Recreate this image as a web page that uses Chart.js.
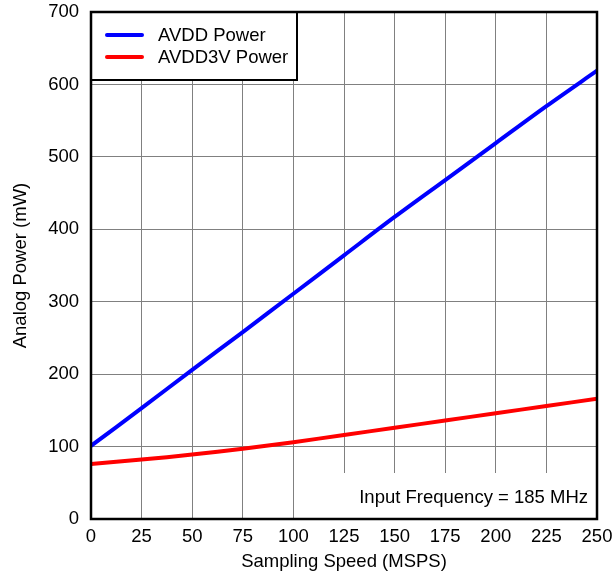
<!DOCTYPE html>
<html>
<head>
<meta charset="utf-8">
<script src="https://cdn.jsdelivr.net/npm/chart.js@4/dist/chart.umd.min.js"></script>
<style>
  html, body { margin: 0; padding: 0; background: #fff; }
  #wrap { width: 613px; height: 575px; }
</style>
</head>
<body>
<div id="wrap"><canvas id="chart" width="613" height="575"></canvas></div>
<script>
// data
var speeds = [0, 25, 50, 75, 100, 125, 150, 175, 200, 225, 250];
var avddPower = [101, 153, 206, 258, 311, 364, 417, 468, 519, 570, 619];
var avdd3vPower = [76, 82, 89, 97, 106, 116, 126, 136, 146, 156, 166];
var seriesNames = ["AVDD Power", "AVDD3V Power"];
var seriesColors = ["#0000ff", "#ff0000"];
var noteText = "Input Frequency = 185 MHz";

const FONT = "Liberation Sans, Arial, sans-serif";
const FSIZE = 18.5;

var toPoints = (ys) => speeds.map((x, i) => ({ x: x, y: ys[i] }));

// no auto padding for tick labels, layout padding decides the plot box
var noAutoPad = (s) => {
  s.paddingTop = 0;
  s.paddingBottom = 0;
  s.paddingLeft = 0;
  s.paddingRight = 0;
};

// legend box, note box and frame drawn on top of the plot
const overlay = {
  id: "overlay",
  afterDraw(chart) {
    const ctx = chart.ctx;
    const a = chart.chartArea;
    ctx.save();

    // note box (bottom right)
    ctx.fillStyle = "#fff";
    ctx.fillRect(a.left + 225, a.bottom - 46, a.right - a.left - 225, 46);
    ctx.fillStyle = "#000";
    ctx.font = FSIZE + "px " + FONT;
    ctx.textAlign = "right";
    ctx.textBaseline = "middle";
    ctx.fillText(noteText, a.right - 9, a.bottom - 21);

    // legend box (top left)
    ctx.fillStyle = "#fff";
    ctx.fillRect(a.left, a.top, 206, 68);
    ctx.strokeStyle = "#000";
    ctx.lineWidth = 2;
    ctx.strokeRect(a.left, a.top, 206, 68);
    ctx.lineWidth = 4;
    ctx.lineCap = "round";
    ctx.textAlign = "left";
    seriesNames.forEach((name, i) => {
      const y = a.top + 23 + i * 22;
      ctx.strokeStyle = seriesColors[i];
      ctx.beginPath();
      ctx.moveTo(a.left + 16, y);
      ctx.lineTo(a.left + 51, y);
      ctx.stroke();
      ctx.fillStyle = "#000";
      ctx.fillText(name, a.left + 67, y + 1);
    });

    // plot frame
    ctx.lineCap = "butt";
    ctx.strokeStyle = "#000";
    ctx.lineWidth = 2.5;
    ctx.strokeRect(a.left, a.top, a.right - a.left, a.bottom - a.top);
    ctx.restore();
  },
};

const chart = new Chart(document.getElementById("chart").getContext("2d"), {
  type: "line",
  data: {
    datasets: [
      {
        label: seriesNames[0],
        data: toPoints(avddPower),
        borderColor: seriesColors[0],
        borderWidth: 4,
        pointRadius: 0,
        tension: 0.3,
      },
      {
        label: seriesNames[1],
        data: toPoints(avdd3vPower),
        borderColor: seriesColors[1],
        borderWidth: 4,
        pointRadius: 0,
        tension: 0.3,
      },
    ],
  },
  options: {
    responsive: false,
    animation: false,
    layout: { padding: { left: 0, right: 16, top: 12, bottom: 0 } },
    plugins: { legend: { display: false }, tooltip: { enabled: false } },
    scales: {
      x: {
        type: "linear",
        min: 0,
        max: 250,
        afterFit: (s) => { s.height = 56; noAutoPad(s); },
        ticks: { stepSize: 25, color: "#000", padding: 7, maxRotation: 0, font: { family: FONT, size: FSIZE } },
        grid: { color: "#808080", lineWidth: 1, drawTicks: false },
        border: { display: false },
        title: { display: true, text: "Sampling Speed (MSPS)", color: "#000", padding: { top: 2, bottom: 2 }, font: { family: FONT, size: FSIZE } },
      },
      y: {
        min: 0,
        max: 700,
        afterFit: (s) => { s.width = 91; noAutoPad(s); },
        ticks: { stepSize: 100, color: "#000", padding: 12, font: { family: FONT, size: FSIZE } },
        grid: { color: "#808080", lineWidth: 1, drawTicks: false },
        border: { display: false },
        title: { display: true, text: "Analog Power (mW)", color: "#000", padding: { top: 10, bottom: 2 }, font: { family: FONT, size: FSIZE } },
      },
    },
  },
  plugins: [overlay],
});
</script>
</body>
</html>
